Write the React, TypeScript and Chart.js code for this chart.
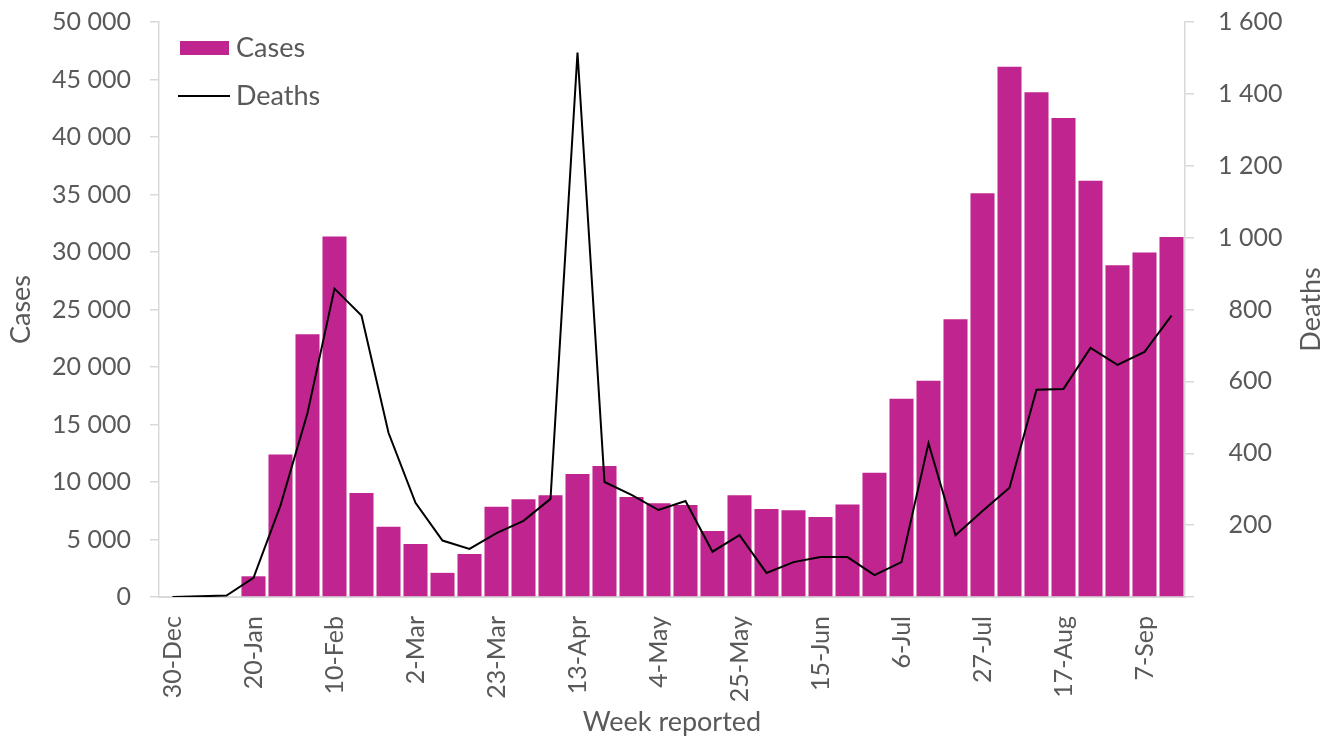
import React, { useEffect, useRef } from 'react';
import { Chart, registerables } from 'chart.js';

Chart.register(...registerables);

const weeks = [
  '30-Dec', '6-Jan', '13-Jan', '20-Jan', '27-Jan', '3-Feb', '10-Feb', '17-Feb', '24-Feb',
  '2-Mar', '9-Mar', '16-Mar', '23-Mar', '30-Mar', '6-Apr', '13-Apr', '20-Apr', '27-Apr',
  '4-May', '11-May', '18-May', '25-May', '1-Jun', '8-Jun', '15-Jun', '22-Jun', '29-Jun',
  '6-Jul', '13-Jul', '20-Jul', '27-Jul', '3-Aug', '10-Aug', '17-Aug', '24-Aug', '31-Aug',
  '7-Sep', '14-Sep',
];

const cases = [
  0, 0, 0, 1800, 12400, 22850, 31350, 9050, 6100,
  4600, 2100, 3750, 7850, 8500, 8850, 10700, 11400, 8700,
  8150, 8000, 5750, 8850, 7650, 7550, 6950, 8050, 10800,
  17250, 18800, 24150, 35100, 46100, 43900, 41650, 36200, 28850,
  29950, 31300,
];

const deaths = [
  0, 2, 4, 53, 255, 512, 858, 783, 457,
  262, 157, 134, 178, 212, 273, 1515, 320, 284,
  242, 267, 126, 172, 67, 97, 111, 111, 61,
  97, 428, 172, 239, 304, 577, 579, 693, 646,
  682, 783,
];

const labelEvery = 3;
const casesMax = 50000;
const casesStep = 5000;
const deathsMax = 1600;
const deathsStep = 200;

const FONT = 'Lato, "Open Sans", sans-serif';
const TEXT = '#595959';
const AXIS = '#d9d9d9';
const BAR = '#C0248F';
const TITLE_SIZE = 27;

const fmt = (v: number) => String(v).replace(/\B(?=(\d{3})+(?!\d))/g, ' ');

const overlayPlugin = {
  id: 'overlay',
  afterDraw(chart: any) {
    const { ctx, chartArea } = chart;
    const ds = chart.data.datasets;
    ctx.save();
    ctx.font = `${TITLE_SIZE}px ${FONT}`;
    ctx.fillStyle = TEXT;
    ctx.textBaseline = 'middle';
    ctx.textAlign = 'left';
    const lx = chartArea.left + 21;
    // Cases
    ctx.fillStyle = ds[0].backgroundColor;
    ctx.fillRect(lx, chartArea.top + 19, 49, 14);
    ctx.fillStyle = TEXT;
    ctx.fillText(ds[0].label, lx + 56, chartArea.top + 26);
    // Deaths
    ctx.strokeStyle = ds[1].borderColor;
    ctx.lineWidth = 2;
    ctx.beginPath();
    ctx.moveTo(lx - 2, chartArea.top + 74);
    ctx.lineTo(lx + 50, chartArea.top + 74);
    ctx.stroke();
    ctx.fillText(ds[1].label, lx + 56, chartArea.top + 74);
    // Right axis title (reads bottom-to-top)
    ctx.translate(1311, (chartArea.top + chartArea.bottom) / 2);
    ctx.rotate(-Math.PI / 2);
    ctx.textAlign = 'center';
    ctx.fillText('Deaths', 0, 0);
    ctx.restore();
  },
};

const noPad = (s: any) => {
  s.paddingTop = 0;
  s.paddingBottom = 0;
};

export default function App() {
  const ref = useRef<HTMLCanvasElement>(null);

  useEffect(() => {
    document.body.style.margin = '0';
    const chart = new Chart(ref.current as HTMLCanvasElement, {
      type: 'bar',
      data: {
        labels: weeks,
        datasets: [
          {
            type: 'bar',
            label: 'Cases',
            data: cases,
            backgroundColor: BAR,
            borderWidth: 0,
            barPercentage: 0.89,
            categoryPercentage: 1,
            yAxisID: 'y',
            order: 2,
          } as any,
          {
            type: 'line',
            label: 'Deaths',
            data: deaths,
            borderColor: '#000000',
            backgroundColor: '#000000',
            borderWidth: 2,
            pointRadius: 0,
            tension: 0,
            yAxisID: 'y1',
            order: 1,
          } as any,
        ],
      },
      options: {
        animation: false,
        responsive: true,
        maintainAspectRatio: false,
        layout: { padding: { top: 22, left: 0, right: 0, bottom: 0 } },
        plugins: {
          legend: { display: false },
          tooltip: { enabled: false },
        },
        scales: {
          x: {
            grid: { display: true, drawOnChartArea: false, drawTicks: false, color: AXIS },
            border: { display: true, color: AXIS, width: 2 },
            ticks: {
              autoSkip: false,
              maxRotation: 90,
              minRotation: 90,
              padding: 19,
              color: TEXT,
              font: { family: FONT, size: 25 },
              callback: (_v: any, i: number) => (i % labelEvery === 0 ? weeks[i] : ''),
            },
            title: {
              display: true,
              text: 'Week reported',
              color: TEXT,
              font: { family: FONT, size: TITLE_SIZE },
              padding: { top: 0, bottom: 2 },
            },
            afterFit: (s: any) => {
              s.height = 143;
            },
          },
          y: {
            position: 'left',
            min: 0,
            max: casesMax,
            grid: { drawOnChartArea: false, tickLength: 9, color: AXIS, lineWidth: 1.5 },
            border: { display: true, color: AXIS, width: 1.5 },
            ticks: {
              stepSize: casesStep,
              padding: 19,
              color: TEXT,
              font: { family: FONT, size: 25 },
              callback: (v: any) => fmt(Number(v)),
            },
            title: {
              display: true,
              text: 'Cases',
              color: TEXT,
              font: { family: FONT, size: TITLE_SIZE },
              padding: { top: 5, bottom: 0 },
            },
            afterFit: (s: any) => {
              s.width = 159;
              noPad(s);
            },
          },
          y1: {
            position: 'right',
            min: 0,
            max: deathsMax,
            grid: { drawOnChartArea: false, tickLength: 9, color: AXIS, lineWidth: 1.5 },
            border: { display: true, color: AXIS, width: 1.5 },
            ticks: {
              stepSize: deathsStep,
              padding: 24,
              crossAlign: 'center',
              color: TEXT,
              font: { family: FONT, size: 25 },
              callback: (v: any) => (Number(v) === 0 ? '' : fmt(Number(v))),
            },
            title: { display: false },
            afterFit: (s: any) => {
              s.width = 150;
              noPad(s);
            },
          },
        },
      } as any,
      plugins: [overlayPlugin],
    });
    return () => chart.destroy();
  }, []);

  return (
    <div style={{ position: 'relative', width: 1335, height: 740 }}>
      <canvas ref={ref} />
    </div>
  );
}
